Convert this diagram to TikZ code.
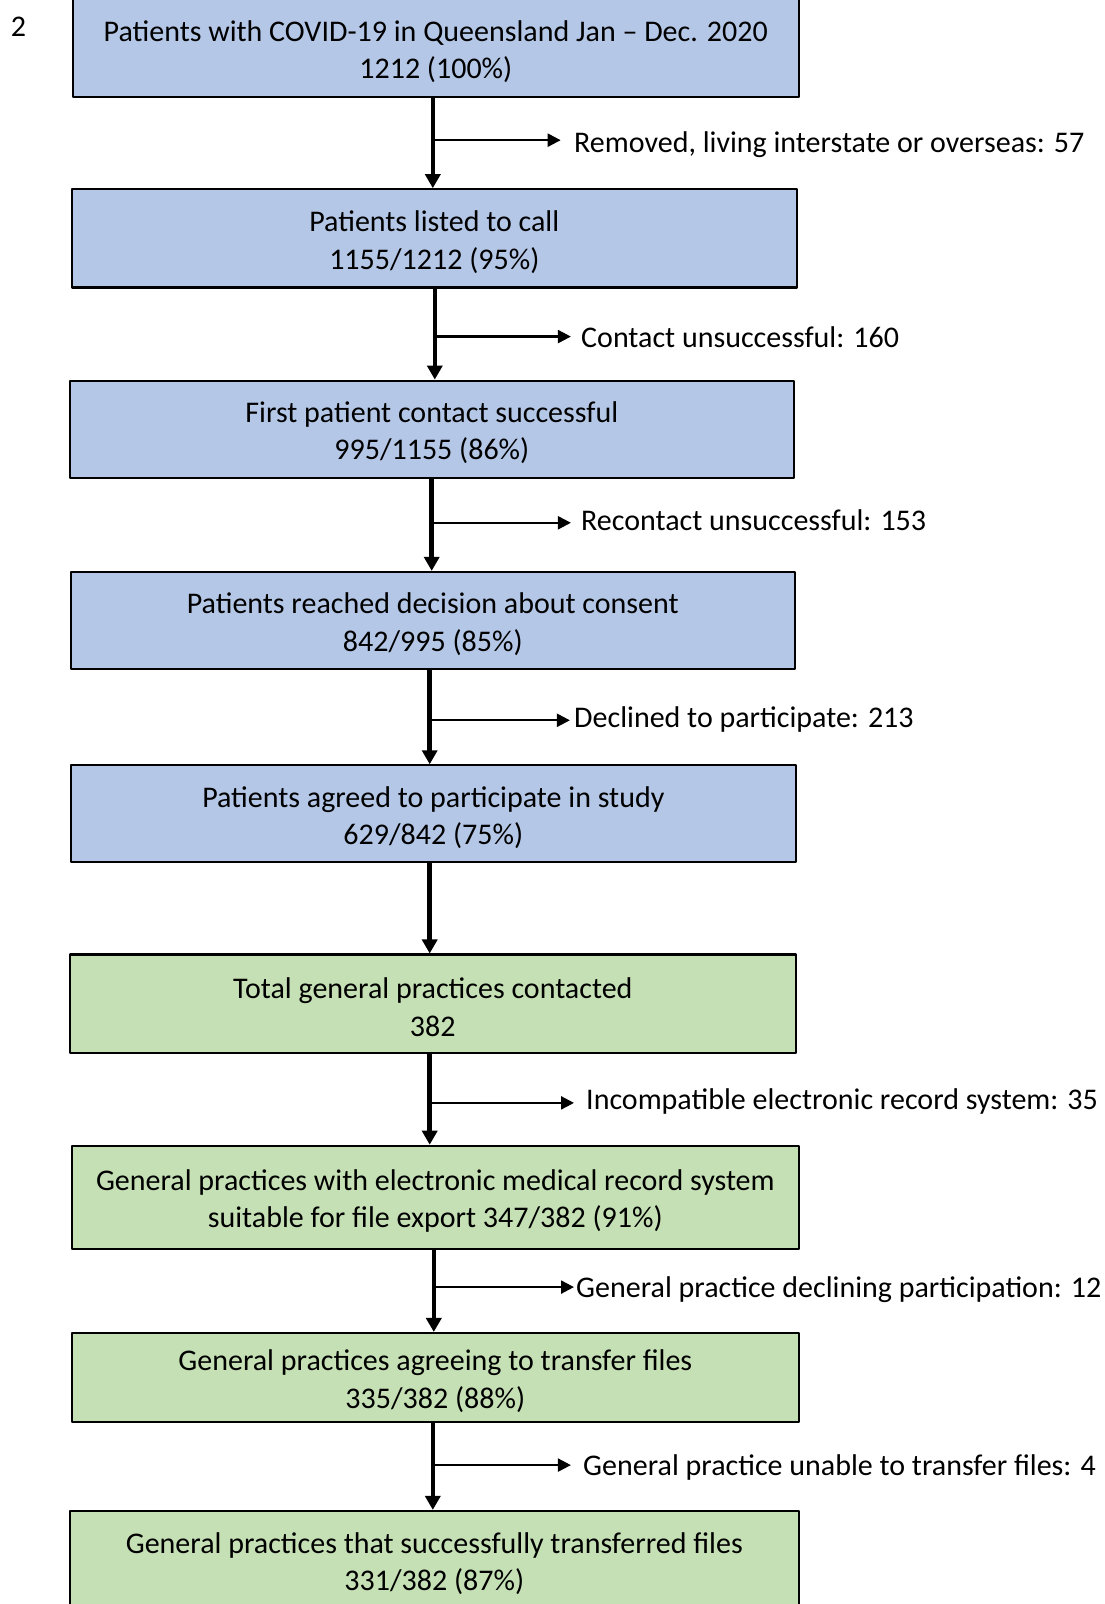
\documentclass[tikz,border=0pt]{standalone}
\usepackage{fontspec}
\setmainfont{Carlito}
\usetikzlibrary{arrows.meta}
\definecolor{boxblue}{HTML}{B4C7E7}
\definecolor{boxgreen}{HTML}{C5E0B4}
\newcommand{\firstline}{\rule{0pt}{28bp}}
\begin{document}
\begin{tikzpicture}[>={Triangle[length=14bp,width=15bp]},line join=bevel,
  every node/.style={font=\fontsize{30bp}{37.5bp}\selectfont},
  stagebox/.style={draw=black,line width=2.2bp,inner sep=0pt,align=center,minimum height=97bp},
  bluebox/.style={stagebox,fill=boxblue},
  greenbox/.style={stagebox,fill=boxgreen},
  sidelabel/.style={anchor=west,inner sep=0pt,text height=24bp,text depth=1bp},
  trunk/.style={black,line width=4.5bp,->},
  side/.style={black,line width=2.3bp,-{Triangle[length=13bp,width=13bp]}},
]
\useasboundingbox (0bp,0bp) rectangle (1105bp,1604bp);
%%
\node (line_no) at (18.4bp,1577.4bp) [draw=none] {2};
%
\node (node_0) at (435.8bp,1555.9bp) [bluebox,minimum width=726.4bp,minimum height=98.2bp] {\firstline Patients with COVID-19 in Queensland Jan – Dec. 2020\\1212 (100\%)};
  \node (node_1) at (434.3bp,1365.6bp) [bluebox,minimum width=725.4bp,minimum height=98.2bp] {\firstline Patients listed to call\\1155/1212 (95\%)};
  \node (node_2) at (431.8bp,1174.8bp) [bluebox,minimum width=724.3bp] {\firstline First patient contact successful\\995/1155 (86\%)};
  \node (node_3) at (432.8bp,983.5bp) [bluebox,minimum width=724.4bp] {\firstline Patients reached decision about consent\\842/995 (85\%)};
  \node (node_4) at (433.3bp,790.1bp) [bluebox,minimum width=725.4bp] {\firstline Patients agreed to participate in study\\629/842 (75\%)};
  \node (node_5) at (432.8bp,600.3bp) [greenbox,minimum width=726.4bp,minimum height=98.2bp] {\firstline Total general practices contacted\\382};
  \node (node_6) at (435.3bp,406.5bp) [greenbox,minimum width=727.4bp,minimum height=103.3bp] {\firstline General practices with electronic medical record system\\suitable for file export 347/382 (91\%)};
  \node (node_7) at (435.3bp,226.4bp) [greenbox,minimum width=727.4bp,minimum height=89bp] {\firstline General practices agreeing to transfer files\\335/382 (88\%)};
  \node (node_8) at (434.3bp,44bp) [greenbox,minimum width=729.4bp,minimum height=98bp] {\firstline General practices that successfully transferred files\\331/382 (87\%)};
%
\coordinate (split_0) at (432.8bp,1463.8bp);
  \coordinate (split_1) at (434.8bp,1267.4bp);
  \coordinate (split_2) at (431.7bp,1081.2bp);
  \coordinate (split_3) at (429.7bp,883.7bp);
  \coordinate (trunk_4) at (429.7bp,700bp);
  \coordinate (split_5) at (429.7bp,501.1bp);
  \coordinate (split_6) at (433.8bp,316.9bp);
  \coordinate (split_7) at (432.8bp,138.9bp);
%
\coordinate (tip_0) at (560.7bp,1463.8bp);
  \coordinate (tip_1) at (570.9bp,1267.4bp);
  \coordinate (tip_2) at (570.9bp,1081.2bp);
  \coordinate (tip_3) at (569.9bp,883.7bp);
  \coordinate (tip_5) at (574bp,501.1bp);
  \coordinate (tip_6) at (574bp,316.9bp);
  \coordinate (tip_7) at (570.9bp,138.9bp);
%
\node (drop_0) at (574bp,1463.3bp) [sidelabel] {Removed, living interstate or overseas: 57};
  \node (drop_1) at (581bp,1268bp) [sidelabel] {Contact unsuccessful: 160};
  \node (drop_2) at (581bp,1085bp) [sidelabel] {Recontact unsuccessful: 153};
  \node (drop_3) at (574bp,888bp) [sidelabel] {Declined to participate: 213};
  \node (drop_5) at (586bp,505.5bp) [sidelabel] {Incompatible electronic record system: 35};
  \node (drop_6) at (576bp,318bp) [sidelabel] {General practice declining participation: 12};
  \node (drop_7) at (583bp,140bp) [sidelabel] {General practice unable to transfer files: 4};
%
\draw [trunk] (node_0.south -| split_0) -- (node_1.north -| split_0);
  \draw [side] (split_0) -- (tip_0);
  \draw [trunk] (node_1.south -| split_1) -- (node_2.north -| split_1);
  \draw [side] (split_1) -- (tip_1);
  \draw [trunk] (node_2.south -| split_2) -- (node_3.north -| split_2);
  \draw [side] (split_2) -- (tip_2);
  \draw [trunk] (node_3.south -| split_3) -- (node_4.north -| split_3);
  \draw [side] (split_3) -- (tip_3);
  \draw [trunk] (node_4.south -| trunk_4) -- (node_5.north -| trunk_4);
  \draw [trunk] (node_5.south -| split_5) -- (node_6.north -| split_5);
  \draw [side] (split_5) -- (tip_5);
  \draw [trunk] (node_6.south -| split_6) -- (node_7.north -| split_6);
  \draw [side] (split_6) -- (tip_6);
  \draw [trunk] (node_7.south -| split_7) -- (node_8.north -| split_7);
  \draw [side] (split_7) -- (tip_7);
%
\end{tikzpicture}
\end{document}
